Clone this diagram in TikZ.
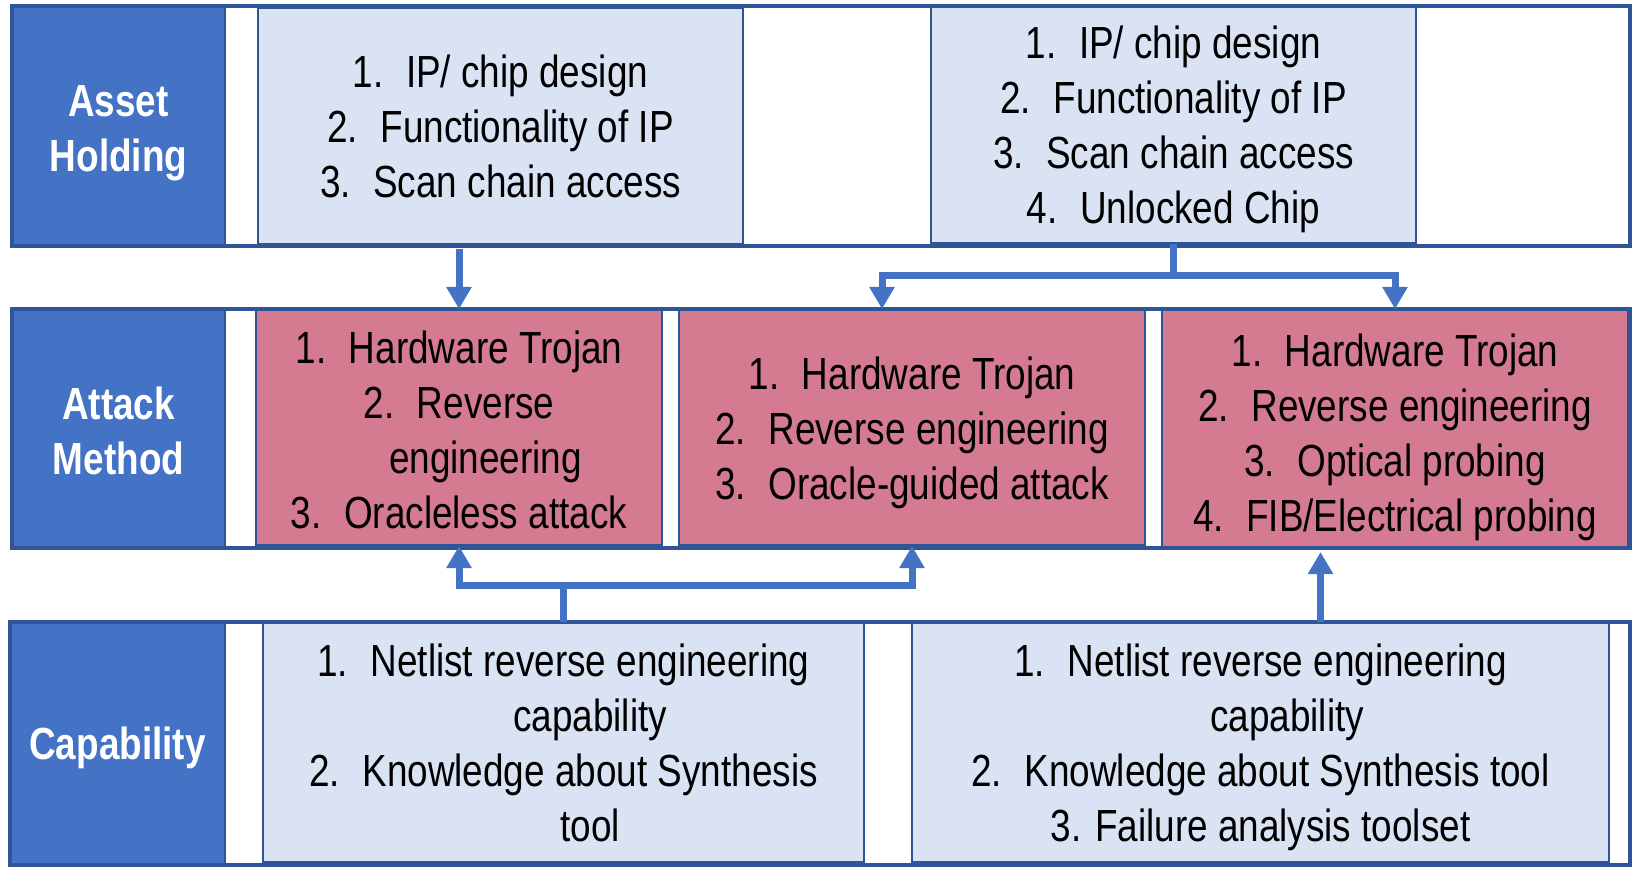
\documentclass[tikz,border=0pt]{standalone}
\usepackage{fontspec}
\setmainfont[FakeStretch=0.82]{Liberation Sans}
\usetikzlibrary{arrows.meta}
\definecolor{frameblue}{RGB}{47,85,151}
\definecolor{labelblue}{RGB}{68,114,196}
\definecolor{paleblue}{RGB}{218,227,243}
\definecolor{attackpink}{RGB}{213,123,145}
\definecolor{arrowblue}{RGB}{68,114,196}
\newcommand{\bodyfont}{\fontsize{22.5}{27.5}\selectfont}
\newcommand{\itm}[1]{#1.\hspace{0.5em}}
% taller first line: pushes a centred block down
\newcommand{\sink}[1]{\rule{0pt}{#1}}

\begin{document}
\begin{tikzpicture}[
    x=0.5pt, y=-0.5pt,
    rowframe/.style ={draw=frameblue, line width=2pt},
    rowlabel/.style ={rectangle, draw=frameblue, line width=1pt,
                      fill=labelblue, inner sep=0pt, text=white,
                      font=\bodyfont\bfseries, align=center},
    asset/.style    ={rectangle, draw=frameblue, line width=1pt,
                      fill=paleblue, inner sep=0pt,
                      font=\bodyfont, align=center},
    attack/.style   ={asset, fill=attackpink},
    arrow/.style    ={draw=arrowblue, line width=3.5pt,
                      -{Triangle[length=11pt,width=12pt]}}
]
\useasboundingbox (0,0) rectangle (1632,881);

%% --- row 1 : asset holding ---
\node[rowlabel, minimum width=106.5pt, minimum height=120pt] (L1) at (118.5,126) {\sink{22.5pt}Asset\\Holding};
\node[asset, minimum width=242.5pt, minimum height=118pt] (A1) at (500.5,126)
  {\itm{1}IP/ chip design\\\itm{2}Functionality of IP\\\itm{3}Scan chain access};
\node[asset, minimum width=242.5pt, minimum height=119pt] (A2) at (1173.5,124)
  {\sink{21.5pt}\itm{1}IP/ chip design\\\itm{2}Functionality of IP\\\itm{3}Scan chain access\\\itm{4}Unlocked Chip};

%% --- row 2 : attack method ---
\node[rowlabel, minimum width=106.5pt, minimum height=119.5pt] (L2) at (118.5,428.5) {\sink{18.5pt}Attack\\Method};
\node[attack, minimum width=203pt, minimum height=117.5pt] (B1) at (459,427.5)
  {\sink{19pt}\itm{1}Hardware Trojan\\\itm{2}Reverse\\\phantom{\itm{2}}engineering\\\itm{3}Oracleless attack};
\node[attack, minimum width=233pt, minimum height=117.5pt] (B2) at (912,427.5)
  {\sink{21.5pt}\itm{1}Hardware Trojan\\\itm{2}Reverse engineering\\\itm{3}Oracle-guided attack};
\node[attack, minimum width=233pt, minimum height=118.5pt] (B3) at (1395,428.5)
  {\sink{25.5pt}\itm{1}Hardware Trojan\\\itm{2}Reverse engineering\\\itm{3}Optical probing\\\itm{4}FIB/Electrical probing};

%% --- row 3 : capability ---
\node[rowlabel, minimum width=107.5pt, minimum height=121.5pt] (L3) at (117.5,743.5) {\sink{20.5pt}Capability};
\node[asset, minimum width=300.5pt, minimum height=119.5pt] (C1) at (563.5,742.5)
  {\itm{1}Netlist reverse engineering\\\phantom{\itm{1}}capability\\\itm{2}Knowledge about Synthesis\\\phantom{\itm{2}}tool};
\node[asset, minimum width=348.5pt, minimum height=119.5pt] (C2) at (1260.5,742.5)
  {\sink{21.5pt}\itm{1}Netlist reverse engineering\\\phantom{\itm{1}}capability\\\itm{2}Knowledge about Synthesis tool\\3. Failure analysis toolset};

%% --- row frames ---
\draw[rowframe] (12,6) rectangle (1630,246);
\draw[rowframe] (12,309) rectangle (1630,548);
\draw[rowframe] (10,622) rectangle (1630,865);

%% --- assets -> attacks ---
\draw[arrow] ([yshift=-2pt]B1.north |- A1.south) -- (B1.north);
\coordinate (fork) at (1173.5,276);
\draw[arrow] (A2.south) -- (fork) -| ([xshift=-15pt]B2.north);
\draw[arrow] (fork) -| (B3.north);

%% --- capabilities -> attacks ---
\coordinate (join) at (563.5,585);
\draw[arrow] (C1.north) -- (join) -| (B1.south);
\draw[arrow] (join) -| (B2.south);
\draw[arrow] ([xshift=30pt]C2.north) -- ([xshift=30pt,yshift=-2pt]C2.north |- B3.south);
\end{tikzpicture}
\end{document}
